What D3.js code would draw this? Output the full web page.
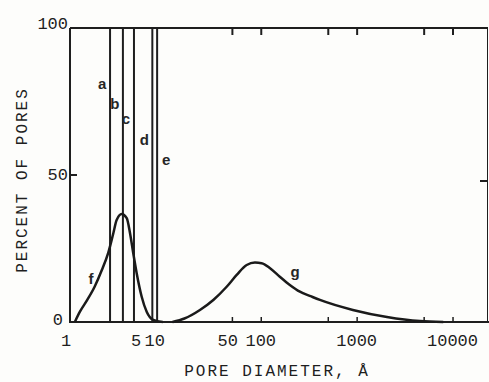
<!DOCTYPE html>
<meta charset="utf-8">
<head>
<script src="https://d3js.org/d3.v7.min.js"></script>
<style>
body { margin: 0; background: #fdfdfb; }
.frame line, .frame path { stroke: #1e1e1e; }
.tick-label { font-family: "Liberation Mono", monospace; font-size: 17px; fill: #1e1e1e; }
.title { font-family: "Liberation Mono", monospace; font-size: 16px; fill: #1e1e1e; letter-spacing: 2px; }
.tag { font-family: "Liberation Sans", Arial, sans-serif; font-size: 15px; font-weight: bold; fill: #262626; }
</style>
</head>
<body>
<svg></svg>
<script>

// curve f (small pores)
var fDiam = [1.15, 1.3, 1.55, 1.85, 2.19, 2.57, 2.9, 3.14, 3.55, 4.0, 4.33, 4.68, 5.08, 5.73, 6.46, 7.57, 9.5];
var fPct  = [0, 3.5, 7.5, 12, 17.5, 23.6, 30.2, 34.7, 36.7, 35.3, 30.2, 23.4, 16.6, 8.6, 3.5, 0.7, 0];

// curve g (large pores)
var gDiam = [12, 16, 23.2, 32, 44.1, 56.1, 71.3, 87, 102, 125, 158, 201, 256, 330, 414, 913, 2070, 4570, 8000];
var gPct  = [0, 1.2, 4.1, 7.5, 12, 16, 19.4, 20.2, 20, 18.3, 15.4, 12.6, 10.3, 8.8, 7.5, 4.1, 1.7, 0.3, 0];

// vertical lines a-e
var lineNames = ["a", "b", "c", "d", "e"];
var lineDiam  = [2.68, 3.65, 4.76, 7.4, 8.3];
var linePct   = [81, 74, 69, 62, 55];

// axis ticks
var xTickMarks  = [50, 100, 500, 1000, 5000, 10000];
var xTickLabels = [1, 5, 10, 50, 100, 1000, 10000];
var yTickLabels = [0, 50, 100];

var width = 489, height = 382;
var x = d3.scaleLog().domain([1, Math.pow(10, 4.37)]).range([69, 488]);
var y = d3.scaleLinear().domain([0, 100]).range([322, 28]);

var svg = d3.select("svg").attr("width", width).attr("height", height);

// frame
var frame = svg.append("g").attr("class", "frame");
frame.append("line").attr("x1", 70).attr("x2", 488).attr("y1", y(100)).attr("y2", y(100))
    .style("stroke-width", "2px");
frame.append("line").attr("x1", 69).attr("x2", 489).attr("y1", y(0)).attr("y2", y(0))
    .style("stroke-width", "2px");
frame.append("line").attr("x1", 70).attr("x2", 70).attr("y1", y(100)).attr("y2", y(0))
    .style("stroke-width", "2px");
frame.append("line").attr("x1", 487.5).attr("x2", 487.5).attr("y1", y(100)).attr("y2", y(0))
    .style("stroke-width", "1px");

// bottom inward ticks
svg.append("g").attr("class", "frame")
    .attr("transform", "translate(0," + y(0) + ")")
    .call(d3.axisTop(x).tickValues(xTickMarks).tickSize(5).tickFormat(""))
    .call(g => g.select(".domain").remove())
    .selectAll("line").style("stroke-width", "1.5px");

// top inward ticks
svg.append("g").attr("class", "frame")
    .attr("transform", "translate(0," + y(100) + ")")
    .call(d3.axisBottom(x).tickValues(xTickMarks).tickSize(7).tickFormat(""))
    .call(g => g.select(".domain").remove())
    .selectAll("line").style("stroke-width", "2px");

// left / right ticks at 50
svg.append("line").attr("x1", 70).attr("x2", 77).attr("y1", y(50)).attr("y2", y(50))
    .style("stroke", "#1e1e1e").style("stroke-width", "2px");
svg.append("line").attr("x1", 480).attr("x2", 488).attr("y1", y(50) + 6).attr("y2", y(50) + 6)
    .style("stroke", "#1e1e1e").style("stroke-width", "2px");

// x tick labels
svg.append("g").selectAll("text")
    .data(xTickLabels)
    .enter().append("text")
    .attr("class", "tick-label")
    .attr("x", function(d) { return x(d); })
    .attr("y", 346)
    .attr("text-anchor", function(d) { return (d == 10 || d == 50) ? "end" : "middle"; })
    .attr("dx", function(d) { return d == 1 ? -3 : (d == 50 ? 6 : 0); })
    .text(function(d) { return d; });

// y tick labels
svg.append("g").selectAll("text")
    .data(yTickLabels)
    .enter().append("text")
    .attr("class", "tick-label")
    .attr("x", function(d) { return d == 0 ? 63 : 68; })
    .attr("y", function(d) { return y(d) + (d == 100 ? 1 : (d == 0 ? 3 : 5)); })
    .attr("text-anchor", "end")
    .text(function(d) { return d; });

// axis titles
svg.append("text").attr("class", "title")
    .attr("x", 277).attr("y", 376)
    .attr("text-anchor", "middle")
    .text("PORE DIAMETER, \u00C5");

svg.append("text").attr("class", "title")
    .attr("transform", "translate(27," + 180 + ") rotate(-90)")
    .attr("text-anchor", "middle")
    .text("PERCENT OF PORES");

// vertical lines
svg.append("g").selectAll("line")
    .data(lineDiam)
    .enter().append("line")
    .attr("x1", function(d) { return x(d); })
    .attr("x2", function(d) { return x(d); })
    .attr("y1", y(100))
    .attr("y2", y(0))
    .style("stroke", "#1e1e1e")
    .style("stroke-width", "2px");

svg.append("g").selectAll("text")
    .data(lineNames)
    .enter().append("text")
    .attr("class", "tag")
    .attr("x", function(d, i) { return x(lineDiam[i]) + (d == "e" ? 9 : -8); })
    .attr("y", function(d, i) { return y(linePct[i]) + 5; })
    .attr("text-anchor", "middle")
    .text(function(d) { return d; });

// curves
var line = d3.line()
    .x(function(d) { return x(d[0]); })
    .y(function(d) { return y(d[1]); })
    .curve(d3.curveMonotoneX);

svg.append("path")
    .datum(d3.zip(fDiam, fPct))
    .attr("d", line)
    .style("fill", "none").style("stroke", "#1a1a1a").style("stroke-width", "2.5px");

svg.append("path")
    .datum(d3.zip(gDiam, gPct))
    .attr("d", line)
    .style("fill", "none").style("stroke", "#1a1a1a").style("stroke-width", "2.5px");

svg.append("text").attr("class", "tag")
    .attr("x", 91).attr("y", y(14.6) + 5)
    .attr("text-anchor", "middle").text("f");
svg.append("text").attr("class", "tag")
    .attr("x", 295).attr("y", y(17) + 5)
    .attr("text-anchor", "middle").text("g");

</script>
</body>
